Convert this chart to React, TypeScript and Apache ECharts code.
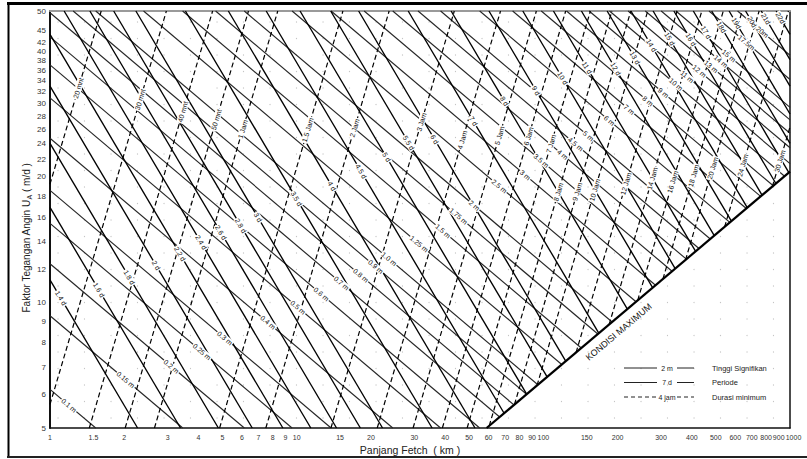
import { useEffect, useRef } from "react";
import * as echarts from "echarts";

// ---------- DATA (fetch F in km, wind stress factor UA in m/s) ----------
const xTickValues = [1, 1.5, 2, 3, 4, 5, 6, 7, 8, 9, 10, 15, 20, 30, 40, 50, 60, 70, 80, 90, 100, 150, 200, 300, 400, 500, 600, 700, 800, 900, 1000];
const yTickValues = [5, 6, 7, 8, 9, 10, 12, 14, 16, 18, 20, 22, 24, 26, 28, 30, 32, 34, 36, 38, 40, 42, 45, 50];

// significant wave height lines: [label, UA at F = 1 km, UA at F = 1000 km]
const heightLines: [string, number, number][] = [
  ["0.1 m", 6.19, 0.196], ["0.15 m", 9.29, 0.294], ["0.2 m", 12.38, 0.392], ["0.25 m", 15.48, 0.489],
  ["0.3 m", 18.57, 0.587], ["0.4 m", 24.76, 0.783], ["0.5 m", 30.95, 0.979], ["0.6 m", 37.14, 1.175],
  ["0.7 m", 43.33, 1.37], ["0.8 m", 49.52, 1.566], ["0.9 m", 55.71, 1.762], ["1.0 m", 61.9, 1.958],
  ["1.25 m", 77.38, 2.447], ["1.5 m", 92.85, 2.936], ["1.75 m", 108.3, 3.426], ["2 m", 123.8, 3.915],
  ["2.5 m", 154.8, 4.894], ["3 m", 185.7, 5.873], ["3.5 m", 216.7, 6.851], ["4 m", 247.6, 7.83],
  ["4.5 m", 278.6, 8.809], ["5 m", 309.5, 9.788], ["6 m", 371.4, 11.75], ["7 m", 433.3, 13.7],
  ["8 m", 495.2, 15.66], ["9 m", 557.1, 17.62], ["10 m", 619, 19.58], ["11 m", 680.9, 21.53],
  ["12 m", 742.8, 23.49], ["13 m", 804.7, 25.45], ["14 m", 866.6, 27.41], ["15 m", 928.5, 29.36],
  ["17.5m", 1083, 34.26], ["20m", 1238, 39.15],
];

// wave period lines: [label, F where UA = 5, F where UA = 50]
const periodLines: [string, number, number][] = [
  ["1.4 d", 2.265, 0.2265], ["1.6 d", 3.382, 0.3382], ["1.8 d", 4.815, 0.4815], ["2 d", 6.605, 0.6605],
  ["2.2 d", 8.791, 0.8791], ["2.4 d", 11.41, 1.141], ["2.6 d", 14.51, 1.451], ["2.8 d", 18.12, 1.812],
  ["3 d", 22.29, 2.229], ["3.5 d", 35.4, 3.54], ["4 d", 52.84, 5.284], ["4.5 d", 75.23, 7.523],
  ["5 d", 103.2, 10.32], ["5.5 d", 137.4, 13.74], ["6 d", 178.3, 17.83], ["7 d", 283.2, 28.32],
  ["8 d", 422.7, 42.27], ["9 d", 601.9, 60.19], ["10 d", 825.6, 82.56], ["11 d", 1099, 109.9],
  ["12 d", 1427, 142.7], ["13 d", 1814, 181.4], ["14 d", 2265, 226.5], ["15 d", 2786, 278.6],
  ["16 d", 3382, 338.2], ["17 d", 4056, 405.6], ["18d", 4815, 481.5], ["19d", 5663, 566.3],
  ["20d", 6605, 660.5], ["21d", 7646, 764.6], ["22d", 8791, 879.1],
];

// minimum duration lines: [label, F where UA = 5, F where UA = 50]
const durationLines: [string, number, number][] = [
  ["20 mnt", 0.51, 1.613], ["30 mnt", 0.937, 2.964], ["40 mnt", 1.443, 4.563], ["50 mnt", 2.017, 6.377],
  ["1 Jam", 2.651, 8.382], ["1.5 Jam", 4.87, 15.4], ["2 Jam", 7.497, 23.71], ["3 Jam", 13.77, 43.56],
  ["4 Jam", 21.21, 67.06], ["5 Jam", 29.64, 93.71], ["6 Jam", 38.96, 123.2], ["7 Jam", 49.09, 155.2],
  ["8 Jam", 59.98, 189.7], ["9 Jam", 71.57, 226.3], ["10 Jam", 83.82, 265.1], ["12 Jam", 110.2, 348.4],
  ["14 Jam", 138.9, 439.1], ["16 Jam", 169.6, 536.5], ["18 Jam", 202.4, 640.1], ["20 Jam", 237.1, 749.7],
  ["24 Jam", 311.7, 985.6], ["30 Jam", 435.6, 1377],
];

// fully developed sea ("KONDISI MAXIMUM") line: [F, UA]
const maxCondition: [number, number][] = [[58.9, 5], [1000, 20.6]];

const legendSamples = ["2 m", "7 d", "4 jam"];
const legendNames = ["Tinggi Signifikan", "Periode", "Durasi minimum"];

// ---------- LAYOUT / STYLE ----------
type Pt = [number, number];
const FONT = '"Liberation Sans", Arial, Helvetica, sans-serif';
const W = 807;
const H = 459;

const HEIGHT_BAND: Pt[] = [
  [50, 412], [70, 405], [125, 380], [170, 367], [200, 353], [225, 338], [267, 323], [297, 308], [320, 295],
  [342, 283], [362, 275], [387, 260], [417, 245], [442, 232], [462, 213], [480, 202], [497, 187], [523, 177],
  [542, 160], [562, 155], [577, 143], [590, 135], [610, 120], [628, 110], [650, 100], [665, 92], [678, 83],
  [688, 76], [702, 70], [713, 66], [723, 60], [730, 55], [743, 45], [760, 33], [790, 20],
];
const PERIOD_BAND: Pt[] = [
  [50, 300], [62, 298], [99, 290], [130, 277], [157, 265], [178, 255], [200, 243], [222, 232], [243, 225],
  [257, 218], [293, 200], [330, 187], [358, 173], [387, 157], [407, 143], [433, 140], [472, 122], [502, 102],
  [533, 92], [563, 78], [583, 67], [610, 72], [632, 60], [652, 45], [672, 38], [690, 40], [707, 32], [722, 27],
  [737, 23], [747, 23], [770, 18], [790, 18],
];
const DURATION_BAND: Pt[] = [
  [50, 85], [78, 88], [143, 100], [187, 113], [218, 120], [245, 130], [310, 130], [355, 128], [417, 120],
  [462, 140], [490, 135], [525, 137], [550, 132], [556, 192], [575, 192], [595, 190], [620, 185], [655, 178],
  [677, 183], [695, 175], [713, 168], [745, 165], [790, 160],
];

function clipSegment(p1: Pt, p2: Pt, rect: any, m1: Pt | null, m2: Pt | null): [Pt, Pt] | null {
  const dx = p2[0] - p1[0];
  const dy = p2[1] - p1[1];
  const fs: ((p: Pt) => number)[] = [
    (p) => p[0] - rect.x,
    (p) => rect.x + rect.width - p[0],
    (p) => p[1] - rect.y,
    (p) => rect.y + rect.height - p[1],
  ];
  if (m1 && m2) {
    const side = (p: Pt) => (m2[0] - m1[0]) * (p[1] - m1[1]) - (m2[1] - m1[1]) * (p[0] - m1[0]);
    const ref = Math.sign(side([rect.x, rect.y])) || 1;
    fs.push((p) => side(p) * ref);
  }
  let t0 = 0;
  let t1 = 1;
  for (const f of fs) {
    const a = f(p1);
    const b = f(p2);
    if (a < 0 && b < 0) return null;
    if (a < 0) t0 = Math.max(t0, a / (a - b));
    else if (b < 0) t1 = Math.min(t1, a / (a - b));
  }
  if (t1 - t0 < 1e-6) return null;
  let s: Pt = [p1[0] + dx * t0, p1[1] + dy * t0];
  let e: Pt = [p1[0] + dx * t1, p1[1] + dy * t1];
  if (e[0] < s[0]) [s, e] = [e, s];
  return [s, e];
}

function bandY(band: Pt[], x: number) {
  if (x <= band[0][0]) return band[0][1];
  for (let i = 1; i < band.length; i++) {
    if (x <= band[i][0]) {
      const [x0, y0] = band[i - 1];
      const [x1, y1] = band[i];
      return y0 + ((y1 - y0) * (x - x0)) / (x1 - x0);
    }
  }
  return band[band.length - 1][1];
}

function labelAt(seg: [Pt, Pt], band: Pt[]): Pt {
  const [a, b] = seg;
  const pt = (t: number): Pt => [a[0] + (b[0] - a[0]) * t, a[1] + (b[1] - a[1]) * t];
  const g = (t: number) => {
    const p = pt(t);
    return p[1] - bandY(band, p[0]);
  };
  const N = 200;
  let prev = g(0);
  for (let i = 1; i <= N; i++) {
    const t = i / N;
    const cur = g(t);
    if (prev * cur <= 0) {
      let lo = (i - 1) / N;
      let hi = t;
      let glo = prev;
      for (let k = 0; k < 30; k++) {
        const m = (lo + hi) / 2;
        const gm = g(m);
        if (glo * gm <= 0) hi = m;
        else {
          lo = m;
          glo = gm;
        }
      }
      const tt = Math.min(0.93, Math.max(0.07, (lo + hi) / 2));
      return pt(tt);
    }
    prev = cur;
  }
  return pt(0.5);
}

function segmentOf(params: any, api: any, withMax: boolean): [Pt, Pt] | null {
  const p1 = api.coord([api.value(0), api.value(1)]) as Pt;
  const p2 = api.coord([api.value(2), api.value(3)]) as Pt;
  const m1 = withMax ? (api.coord(maxCondition[0]) as Pt) : null;
  const m2 = withMax ? (api.coord(maxCondition[1]) as Pt) : null;
  return clipSegment(p1, p2, params.coordSys, m1, m2);
}

function familySeries(name: string, rows: number[][], labels: string[], band: Pt[], lineStyle: any) {
  return [
    {
      type: "custom",
      name,
      silent: true,
      z: 3,
      data: rows,
      renderItem: (params: any, api: any) => {
        const seg = segmentOf(params, api, true);
        if (!seg) return { type: "group", children: [] };
        return {
          type: "line",
          shape: { x1: seg[0][0], y1: seg[0][1], x2: seg[1][0], y2: seg[1][1] },
          style: { fill: null, ...lineStyle },
        };
      },
    },
    {
      type: "custom",
      name: name + " label",
      silent: true,
      z: 6,
      data: rows,
      renderItem: (params: any, api: any) => {
        const seg = segmentOf(params, api, true);
        if (!seg) return { type: "group", children: [] };
        const p = labelAt(seg, band);
        const ang = -Math.atan2(seg[1][1] - seg[0][1], seg[1][0] - seg[0][0]);
        return {
          type: "text",
          x: p[0],
          y: p[1],
          rotation: ang,
          style: {
            text: labels[params.dataIndex],
            x: 0,
            y: 0,
            align: "center",
            verticalAlign: "middle",
            fontSize: 7,
            fontFamily: FONT,
            fill: "#111",
            backgroundColor: "#fff",
            padding: [0, 1],
          },
        };
      },
    },
  ];
}

function buildOption() {
  const heightRows = heightLines.map((r) => [1, r[1], 1000, r[2]]);
  const periodRows = periodLines.map((r) => [r[1], 5, r[2], 50]);
  const durationRows = durationLines.map((r) => [r[1], 5, r[2], 50]);

  const graphic: any[] = [];
  // faint dotted paper texture
  for (let x = 58; x < 790; x += 26.5) {
    for (let y = 22; y < 428; y += 16.5) {
      graphic.push({ type: "circle", z: 0, silent: true, shape: { cx: x, cy: y, r: 0.6 }, style: { fill: "#c4c4c4" } });
    }
  }
  // frame
  graphic.push({ type: "line", z: 60, shape: { x1: 7, y1: 3.5, x2: 807, y2: 3.5 }, style: { stroke: "#000", lineWidth: 3 } });
  graphic.push({ type: "line", z: 60, shape: { x1: 8.5, y1: 2, x2: 8.5, y2: 458 }, style: { stroke: "#000", lineWidth: 2 } });
  graphic.push({ type: "line", z: 60, shape: { x1: 7, y1: 457, x2: 807, y2: 457 }, style: { stroke: "#222", lineWidth: 2 } });
  // axis titles
  graphic.push({
    type: "text",
    z: 60,
    x: 26,
    y: 238,
    rotation: Math.PI / 2,
    style: {
      text: "{a|Faktor Tegangan Angin U}{s|A}{a| ( m/d )}",
      align: "center",
      verticalAlign: "middle",
      fill: "#222",
      rich: {
        a: { fontSize: 10, fontFamily: FONT, fill: "#222", lineHeight: 14, verticalAlign: "middle" },
        s: { fontSize: 7, fontFamily: FONT, fill: "#222", lineHeight: 14, verticalAlign: "bottom" },
      },
    },
  });
  graphic.push({
    type: "text",
    z: 60,
    x: 410,
    y: 450,
    style: { text: "Panjang Fetch  ( km )", align: "center", verticalAlign: "middle", fontSize: 10.5, fontFamily: FONT, fill: "#222" },
  });
  // legend
  legendSamples.forEach((sample, i) => {
    const y = 368 + i * 14.5;
    const ls = { stroke: "#222", lineWidth: 1, lineDash: i === 2 ? [4, 3] : null };
    graphic.push({ type: "line", z: 60, shape: { x1: 624, y1: y, x2: 657, y2: y }, style: ls });
    graphic.push({
      type: "text",
      z: 60,
      x: 667,
      y,
      style: { text: sample, align: "center", verticalAlign: "middle", fontSize: 7, fontFamily: FONT, fill: "#222" },
    });
    graphic.push({ type: "line", z: 60, shape: { x1: 677, y1: y, x2: 694, y2: y }, style: ls });
    graphic.push({
      type: "text",
      z: 60,
      x: 712,
      y,
      style: { text: legendNames[i], align: "left", verticalAlign: "middle", fontSize: 7.5, fontFamily: FONT, fill: "#222" },
    });
  });

  const logAxisCommon = {
    type: "log",
    logBase: 10,
    axisTick: { show: false },
    axisLabel: { show: false },
    splitLine: { show: false },
    minorTick: { show: false },
    minorSplitLine: { show: false },
  };

  const lastX = xTickValues.length - 1;

  return {
    animation: false,
    backgroundColor: "#fff",
    grid: { left: 50, right: 17, top: 11, bottom: 31, show: false },
    xAxis: [
      { ...logAxisCommon, min: 1, max: 1000, position: "bottom", axisLine: { show: true, lineStyle: { color: "#111", width: 1.5 } } },
      { ...logAxisCommon, min: 1, max: 1000, position: "top", axisLine: { show: true, lineStyle: { color: "#9a9a9a", width: 2 } } },
    ],
    yAxis: [
      { ...logAxisCommon, min: 5, max: 50, position: "left", axisLine: { show: true, lineStyle: { color: "#111", width: 2 } } },
      { ...logAxisCommon, min: 5, max: 50, position: "right", axisLine: { show: true, lineStyle: { color: "#111", width: 1.5 } } },
    ],
    graphic,
    series: [
      ...familySeries("Tinggi Signifikan", heightRows, heightLines.map((r) => r[0]), HEIGHT_BAND, { stroke: "#262626", lineWidth: 1.15 }),
      ...familySeries("Periode", periodRows, periodLines.map((r) => r[0]), PERIOD_BAND, { stroke: "#000", lineWidth: 1.35 }),
      ...familySeries("Durasi minimum", durationRows, durationLines.map((r) => r[0]), DURATION_BAND, {
        stroke: "#000",
        lineWidth: 1.2,
        lineDash: [5, 3],
      }),
      {
        type: "custom",
        name: "Kondisi Maximum",
        silent: true,
        z: 7,
        data: [[maxCondition[0][0], maxCondition[0][1], maxCondition[1][0], maxCondition[1][1]]],
        renderItem: (params: any, api: any) => {
          const seg = segmentOf(params, api, false);
          if (!seg) return { type: "group", children: [] };
          const [a, b] = seg;
          const ang = -Math.atan2(b[1] - a[1], b[0] - a[0]);
          const t = 0.41;
          const px = a[0] + (b[0] - a[0]) * t + 12 * Math.sin(ang);
          const py = a[1] + (b[1] - a[1]) * t + 12 * Math.cos(ang);
          return {
            type: "group",
            children: [
              { type: "line", shape: { x1: a[0], y1: a[1], x2: b[0], y2: b[1] }, style: { stroke: "#000", lineWidth: 2.2 } },
              {
                type: "text",
                x: px,
                y: py,
                rotation: ang,
                style: { text: "KONDISI MAXIMUM", x: 0, y: 0, align: "center", verticalAlign: "middle", fontSize: 9, fontFamily: FONT, fill: "#111" },
              },
            ],
          };
        },
      },
      {
        type: "custom",
        name: "x ticks",
        silent: true,
        z: 8,
        data: xTickValues.map((v) => [v, 5]),
        renderItem: (params: any, api: any) => {
          const p = api.coord([api.value(0), api.value(1)]);
          const shift = params.dataIndex === lastX ? 3.5 : 0;
          return {
            type: "text",
            x: p[0] + shift,
            y: p[1] + 9,
            style: { text: String(xTickValues[params.dataIndex]), align: "center", verticalAlign: "middle", fontSize: 7, fontFamily: FONT, fill: "#333" },
          };
        },
      },
      {
        type: "custom",
        name: "y ticks",
        silent: true,
        z: 8,
        data: yTickValues.map((v) => [1, v]),
        renderItem: (params: any, api: any) => {
          const p = api.coord([api.value(0), api.value(1)]);
          return {
            type: "text",
            x: p[0] - 4,
            y: p[1],
            style: { text: String(yTickValues[params.dataIndex]), align: "right", verticalAlign: "middle", fontSize: 8, fontFamily: FONT, fill: "#333" },
          };
        },
      },
    ],
  };
}

export default function App() {
  const ref = useRef<HTMLDivElement | null>(null);
  useEffect(() => {
    if (!ref.current) return;
    const chart = echarts.init(ref.current, null, { renderer: "svg" });
    chart.setOption(buildOption() as any);
    return () => chart.dispose();
  }, []);
  return (
    <div
      ref={ref}
      style={{ position: "absolute", left: 0, top: 0, width: W, height: H, background: "#fff" }}
    />
  );
}
